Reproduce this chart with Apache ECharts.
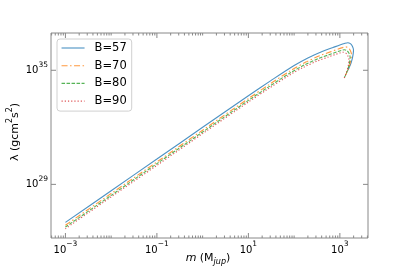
<!DOCTYPE html>
<html>
<head>
<meta charset="utf-8">
<script src="https://cdn.jsdelivr.net/npm/echarts@6/dist/echarts.min.js"></script>
<style>
html,body{margin:0;padding:0;background:#fff;}
#chart{width:409px;height:273px;}
</style>
</head>
<body>
<div id="chart"></div>
<script>
// Values (m in M_jup, lambda in g cm^2 s^2)
const seriesNames = ['B=57', 'B=70', 'B=80', 'B=90'];

const mB57   = [0.001, 0.01, 0.1, 1, 10, 31.6, 100, 199.5, 398, 708, 1000, 1259, 1496, 1698, 1841, 1950, 1986, 1950, 1862, 1738, 1603, 1496];
const lamB57 = [1.0e27, 4.65e28, 2.15e30, 1.0e32, 4.57e33, 2.95e34, 1.78e35, 4.47e35, 9.55e35, 1.58e36, 2.14e36, 2.57e36, 2.82e36, 2.51e36, 2.0e36, 1.45e36, 1.12e36, 7.08e35, 3.98e35, 2.24e35, 1.41e35, 1.0e35];

const mB70   = [0.001, 0.01, 0.1, 1, 10, 28.5, 90.2, 179.9, 359, 638, 902, 1135, 1349, 1531, 1660, 1758, 1791, 1758, 1679, 1567, 1445, 1349];
const lamB70 = [7.08e26, 3.31e28, 1.51e30, 7.08e31, 3.24e33, 1.78e34, 1.07e35, 2.69e35, 5.75e35, 9.55e35, 1.29e36, 1.55e36, 1.70e36, 1.51e36, 1.20e36, 8.71e35, 6.76e35, 4.27e35, 2.40e35, 1.35e35, 8.51e34, 6.03e34];

const mB80   = [0.001, 0.01, 0.1, 1, 10, 26.7, 84.3, 168.3, 336, 597, 843, 1062, 1262, 1432, 1552, 1644, 1675, 1644, 1570, 1466, 1352, 1262];
const lamB80 = [5.69e26, 2.63e28, 1.23e30, 5.69e31, 2.60e33, 1.26e34, 7.59e34, 1.91e35, 4.07e35, 6.76e35, 9.12e35, 1.10e36, 1.20e36, 1.07e36, 8.51e35, 6.17e35, 4.79e35, 3.02e35, 1.70e35, 9.55e34, 6.03e34, 4.27e34];

const mB90   = [0.001, 0.01, 0.1, 1, 10, 25.1, 79.4, 158.5, 316, 562, 794, 1000, 1191, 1352, 1466, 1552, 1581, 1552, 1483, 1384, 1276, 1191];
const lamB90 = [4.68e26, 2.19e28, 1.0e30, 4.68e31, 2.14e33, 9.33e33, 5.62e34, 1.41e35, 3.02e35, 5.01e35, 6.76e35, 8.13e35, 8.91e35, 7.94e35, 6.31e35, 4.57e35, 3.55e35, 2.24e35, 1.26e35, 7.08e34, 4.47e34, 3.16e34];

// Tick labels (exponents of 10)
const xLabelExps = [-3, -1, 1, 3];
const yLabelExps = [29, 35];

// Axis limits
const xMin = Math.pow(10, -3.315), xMax = Math.pow(10, 3.615);
const yMin = Math.pow(10, 26.18), yMax = Math.pow(10, 36.96);

const colors = ['#1f77b4', '#ff7f0e', '#2ca02c', '#d62728'];
const dashes = ['solid', [6, 2.5, 1.5, 2.5], [3.5, 1.5], [1.2, 2]];
const mArr = [mB57, mB70, mB80, mB90];
const lArr = [lamB57, lamB70, lamB80, lamB90];

const FONT = 'DejaVu Sans';
const supRich = {
  a: {fontSize: 10, fontFamily: FONT, color: '#000', lineHeight: 15, verticalAlign: 'bottom'},
  b: {fontSize: 7.5, fontFamily: FONT, color: '#000', lineHeight: 15, verticalAlign: 'top'}
};
function expText(e) {
  return '{a|10}{b|' + (e < 0 ? '\u2212' + (-e) : String(e)) + '}';
}

// x tick list: major (labelled) decades and minor 1..9 x 10^k
const xTicks = [];
for (let e = -4; e <= 4; e++) {
  for (let k = 1; k <= 9; k++) {
    const v = k * Math.pow(10, e);
    if (v < xMin || v > xMax) continue;
    const major = (k === 1 && xLabelExps.indexOf(e) >= 0) ? 1 : 0;
    xTicks.push([v, 1e30, major, e]);
  }
}
const yTicks = yLabelExps.map(e => [1e-2, Math.pow(10, e), 1, e]);

const TICKC = '#888';
function renderXTick(params, api) {
  const v = api.value(0), major = api.value(2), e = api.value(3);
  const p = api.coord([v, 1e30]);
  const cs = params.coordSys;
  const len = major ? 5 : 2.5;
  const bot = cs.y + cs.height, top = cs.y;
  const ch = [
    {type: 'line', shape: {x1: p[0], y1: bot, x2: p[0], y2: bot - len}, style: {stroke: TICKC, lineWidth: 1}},
    {type: 'line', shape: {x1: p[0], y1: top, x2: p[0], y2: top + len}, style: {stroke: TICKC, lineWidth: 1}}
  ];
  if (major) {
    ch.push({type: 'text', x: p[0], y: bot + 2,
      style: {text: expText(e), rich: supRich, align: 'center', verticalAlign: 'top'}});
  }
  return {type: 'group', children: ch};
}
function renderYTick(params, api) {
  const v = api.value(1), e = api.value(3);
  const p = api.coord([1e-2, v]);
  const cs = params.coordSys;
  const l = cs.x, r = cs.x + cs.width;
  return {type: 'group', children: [
    {type: 'line', shape: {x1: l, y1: p[1], x2: l + 5, y2: p[1]}, style: {stroke: TICKC, lineWidth: 1}},
    {type: 'line', shape: {x1: r, y1: p[1], x2: r - 5, y2: p[1]}, style: {stroke: TICKC, lineWidth: 1}},
    {type: 'text', x: l - 3, y: p[1] - 2,
      style: {text: expText(e), rich: supRich, align: 'right', verticalAlign: 'middle'}}
  ]};
}

const lineSeries = seriesNames.map((n, i) => ({
  name: n,
  type: 'line',
  data: mArr[i].map((m, j) => [m, lArr[i][j]]),
  symbol: 'circle',
  symbolSize: 0,
  showSymbol: false,
  smooth: 0.3,
  lineStyle: {color: colors[i], width: 1.1, type: dashes[i], opacity: 0.8},
  itemStyle: {color: colors[i], opacity: 0},
  z: 3,
  animation: false
}));

const chart = echarts.init(document.getElementById('chart'), null, {renderer: 'canvas'});
chart.setOption({
  animation: false,
  grid: {left: 51, top: 33, width: 317, height: 205, show: true, borderColor: '#888', borderWidth: 1, backgroundColor: 'transparent'},
  xAxis: {type: 'log', min: xMin, max: xMax, axisLine: {show: false}, axisTick: {show: false}, axisLabel: {show: false}, splitLine: {show: false}, minorTick: {show: false}},
  yAxis: {type: 'log', min: yMin, max: yMax, axisLine: {show: false}, axisTick: {show: false}, axisLabel: {show: false}, splitLine: {show: false}, minorTick: {show: false}},
  legend: {
    data: seriesNames,
    orient: 'vertical',
    left: 57, top: 39,
    padding: [3, 5, 4, 4],
    itemWidth: 23, itemHeight: 11, itemGap: 5.7,
    itemStyle: {opacity: 0, borderWidth: 0},
    lineStyle: {width: 1.1},
    backgroundColor: 'rgba(255,255,255,0.85)',
    borderColor: '#d0d0d0', borderWidth: 1, borderRadius: 3,
    textStyle: {fontFamily: FONT, fontSize: 11.5, color: '#000', padding: [0, 0, 0, 5]},
    z: 10
  },
  graphic: [
    {type: 'text', x: 208, y: 258,
      style: {text: '{i|m} {n|(M}{s|jup}{n|)}', align: 'center', verticalAlign: 'middle',
        rich: {
          i: {fontSize: 11, fontStyle: 'italic', fontFamily: FONT, color: '#000', lineHeight: 15, verticalAlign: 'middle'},
          n: {fontSize: 11, fontFamily: FONT, color: '#000', lineHeight: 15, verticalAlign: 'middle'},
          s: {fontSize: 8, fontStyle: 'italic', fontFamily: FONT, color: '#000', lineHeight: 15, verticalAlign: 'bottom'}
        }}},
    {type: 'text', x: 13, y: 132, rotation: Math.PI / 2,
      style: {text: '{n|\u03bb (gcm}{s|2}{n|s}{s|2}{n|)}', align: 'center', verticalAlign: 'middle',
        rich: {
          n: {fontSize: 11, fontFamily: FONT, color: '#000', lineHeight: 15, verticalAlign: 'bottom'},
          s: {fontSize: 8, fontFamily: FONT, color: '#000', lineHeight: 15, verticalAlign: 'top'}
        }}}
  ],
  series: lineSeries.concat([
    {type: 'custom', name: 'xticks', data: xTicks, renderItem: renderXTick, clip: false, silent: true, z: 4, animation: false},
    {type: 'custom', name: 'yticks', data: yTicks, renderItem: renderYTick, clip: false, silent: true, z: 4, animation: false}
  ])
});
</script>
</body>
</html>
